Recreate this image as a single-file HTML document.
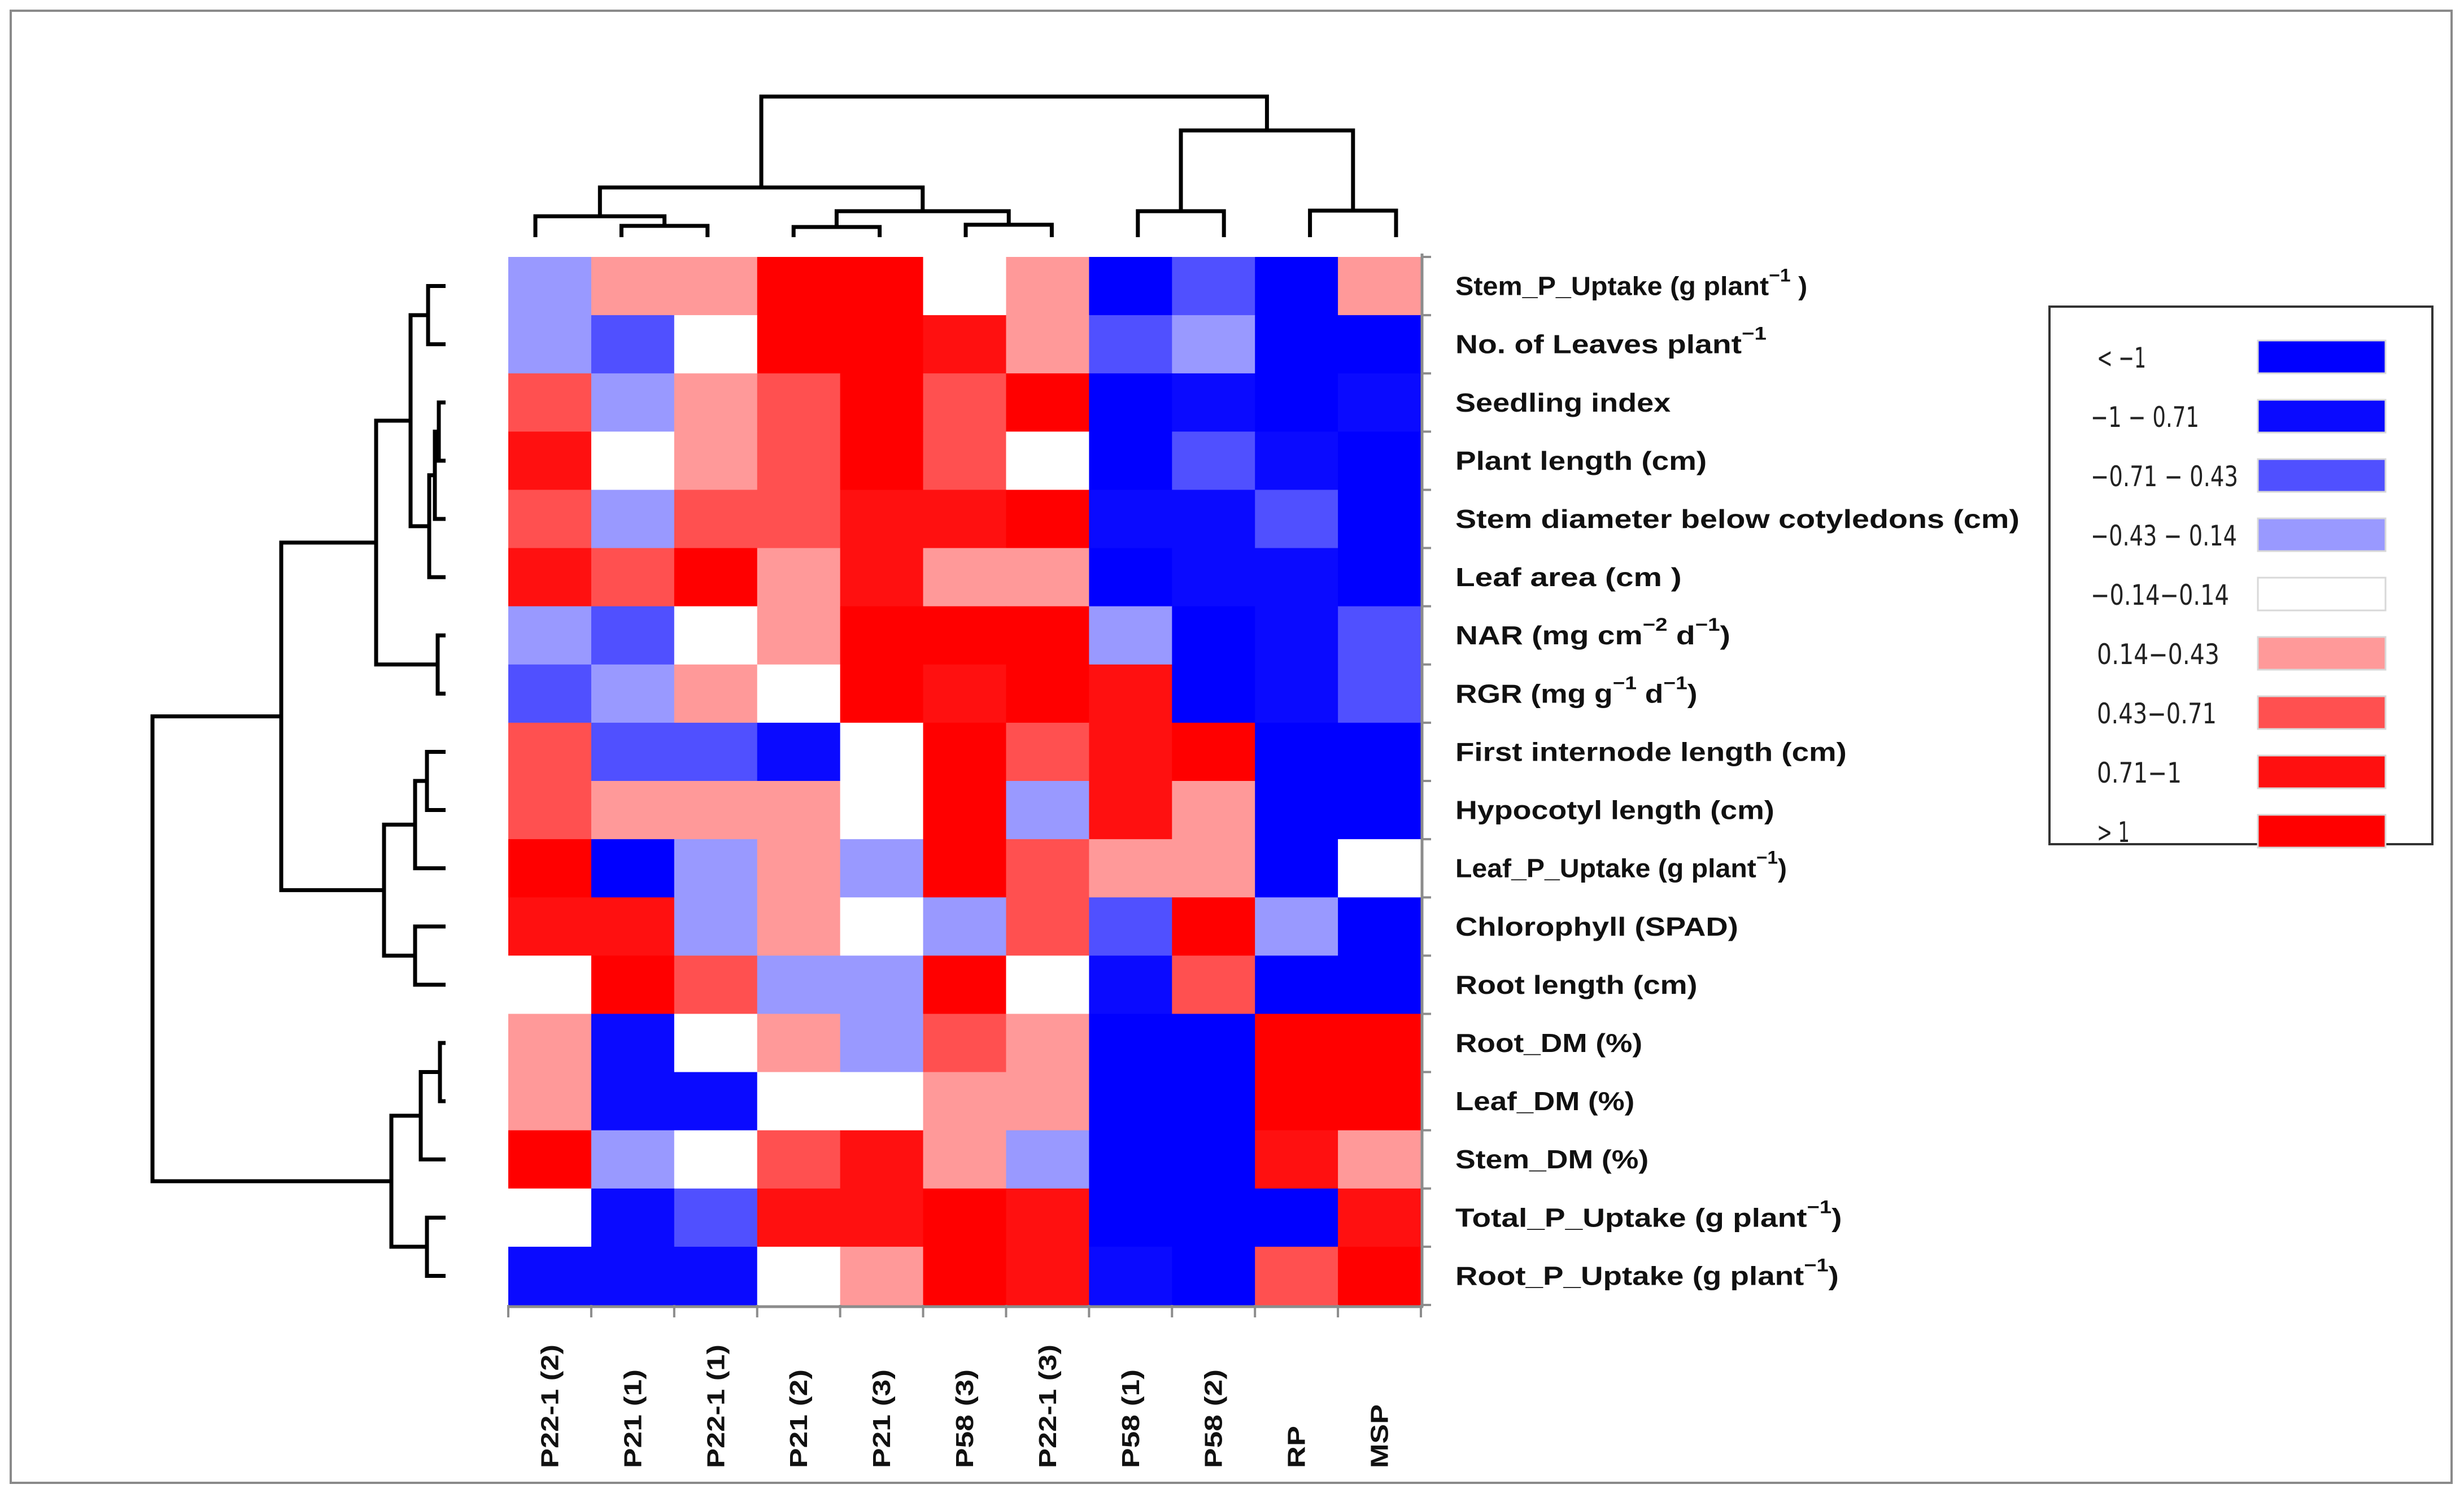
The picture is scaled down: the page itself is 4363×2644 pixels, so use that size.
<!DOCTYPE html>
<html><head><meta charset="utf-8"><style>
html,body{margin:0;padding:0;background:#fff;width:4363px;height:2644px;overflow:hidden}
svg{display:block}
.rl{font-family:"Liberation Sans",sans-serif;font-weight:bold;font-size:46px;fill:#111}
.cl{font-family:"Liberation Sans",sans-serif;font-weight:bold;font-size:44px;fill:#111}
.lg{font-family:"DejaVu Sans","Liberation Sans",sans-serif;font-size:50px;fill:#222}
</style></head><body>
<svg id="chart" width="4363" height="2644" viewBox="0 0 4363 2644" xmlns="http://www.w3.org/2000/svg">
<rect x="19" y="19" width="4322" height="2607" fill="#fff" stroke="#8a8a8a" stroke-width="4"/>
<g id="cells"></g>
<g id="axes"></g>
<g id="rowlabels"></g>
<g id="collabels"></g>
<g id="rowdendro"></g>
<g id="coldendro"></g>
<g id="legend">
<rect x="3629" y="543" width="678" height="952" fill="#fff" stroke="#333" stroke-width="4"/>
</g>
</svg>
<script>
const columns = ["P22-1 (2)","P21 (1)","P22-1 (1)","P21 (2)","P21 (3)","P58 (3)","P22-1 (3)","P58 (1)","P58 (2)","RP","MSP"];
const rowLabels = [
 ["Stem_P_Uptake (g plant","−1"," )"],
 ["No. of Leaves plant","−1",""],
 ["Seedling index","",""],
 ["Plant length (cm)","",""],
 ["Stem diameter below cotyledons (cm)","",""],
 ["Leaf area (cm   )","",""],
 ["NAR (mg cm","−2"," d","−1",")"],
 ["RGR (mg g","−1"," d","−1",")"],
 ["First internode length (cm)","",""],
 ["Hypocotyl length (cm)","",""],
 ["Leaf_P_Uptake (g plant","−1",")"],
 ["Chlorophyll (SPAD)","",""],
 ["Root length (cm)","",""],
 ["Root_DM (%)","",""],
 ["Leaf_DM (%)","",""],
 ["Stem_DM (%)","",""],
 ["Total_P_Uptake (g plant","−1",")"],
 ["Root_P_Uptake (g plant","−1",")"]
];
const rowLabelEnds = [1150,1124,1063,1086,1285,1070,1101,1080,1175,1129,1137,1106,1080,1045,1040,1049,1172,1170];
// standardized values (estimated from colour bins)
const values = [
 [-0.28,0.28,0.28,1.2,1.2,0,0.28,-1.2,-0.57,-1.2,0.28],
 [-0.28,-0.57,0,1.2,1.2,0.85,0.28,-0.57,-0.28,-1.2,-1.2],
 [0.57,-0.28,0.28,0.57,1.2,0.57,1.2,-1.2,-0.85,-1.2,-0.85],
 [0.85,0,0.28,0.57,1.2,0.57,0,-1.2,-0.57,-0.85,-1.2],
 [0.57,-0.28,0.57,0.57,0.85,0.85,1.2,-0.85,-0.85,-0.57,-1.2],
 [0.85,0.57,1.2,0.28,0.85,0.28,0.28,-1.2,-0.85,-0.85,-1.2],
 [-0.28,-0.57,0,0.28,1.2,1.2,1.2,-0.28,-1.2,-0.85,-0.57],
 [-0.57,-0.28,0.28,0,1.2,0.85,1.2,0.85,-1.2,-0.85,-0.57],
 [0.57,-0.57,-0.57,-0.85,0,1.2,0.57,0.85,1.2,-1.2,-1.2],
 [0.57,0.28,0.28,0.28,0,1.2,-0.28,0.85,0.28,-1.2,-1.2],
 [1.2,-1.2,-0.28,0.28,-0.28,1.2,0.57,0.28,0.28,-1.2,0],
 [0.85,0.85,-0.28,0.28,0,-0.28,0.57,-0.57,1.2,-0.28,-1.2],
 [0,1.2,0.57,-0.28,-0.28,1.2,0,-0.85,0.57,-1.2,-1.2],
 [0.28,-0.85,0,0.28,-0.28,0.57,0.28,-1.2,-1.2,1.2,1.2],
 [0.28,-0.85,-0.85,0,0,0.28,0.28,-1.2,-1.2,1.2,1.2],
 [1.2,-0.28,0,0.57,0.85,0.28,-0.28,-1.2,-1.2,0.85,0.28],
 [0,-0.85,-0.57,0.85,0.85,1.2,0.85,-1.2,-1.2,-1.2,0.85],
 [-0.85,-0.85,-0.85,0,0.28,1.2,0.85,-0.85,-1.2,0.57,1.2]
];
const binEdges = [-1,-0.71,-0.43,-0.14,0.14,0.43,0.71,1];
const binColors = ["#0000ff","#0a0aff","#5050ff","#9999ff","#ffffff","#ff9999","#ff5050","#ff1010","#ff0000"];
const legendLabels = ["< −1","−1  − 0.71","−0.71 − 0.43","−0.43 − 0.14","−0.14−0.14","0.14−0.43","0.43−0.71","0.71−1","> 1"];
const legendLabelWidths = [87,192,261,259,245,217,212,150,58];
// row dendrogram merges: [childA, childB, distance]; ids >= 18 refer to earlier merges
const rowMerges = [[0,1,3.1],[2,3,1.2],[19,4,1.9],[20,5,2.9],[18,21,6.2],[6,7,1.4],[22,23,12.3],[8,9,3.3],[25,10,5.4],[11,12,5.4],[26,27,10.9],[24,28,29.1],[13,14,1.0],[30,15,4.4],[16,17,3.3],[31,32,9.6],[29,33,51.9]];
// column dendrogram merges; ids >= 11 refer to earlier merges
const colMerges = [[1,2,2.0],[0,11,3.7],[3,4,1.8],[5,6,2.2],[13,14,4.6],[12,15,8.8],[7,8,4.6],[9,10,4.7],[17,18,18.9],[16,19,24.9]];

const NS="http://www.w3.org/2000/svg";
function mk(tag,attrs,parent){const e=document.createElementNS(NS,tag);for(const k in attrs)e.setAttribute(k,attrs[k]);parent.appendChild(e);return e;}
const X0=900,Y0=455,CW=(2516-900)/columns.length,RH=(2311-455)/values.length;
const xCol=i=>X0+CW*i, yRow=j=>Y0+RH*j;
function colorOf(v){let b=0;while(b<binEdges.length&&v>binEdges[b])b++;return binColors[b];}

const cells=document.getElementById('cells');
values.forEach((row,j)=>row.forEach((v,i)=>{
  const r=mk('rect',{x:xCol(i),y:yRow(j),width:CW+0.6,height:RH+0.6,fill:colorOf(v)},cells);
  
  
}));
// axes
const axes=document.getElementById('axes');
const xr=xCol(columns.length), yb=yRow(values.length);
mk('line',{x1:xr+2,y1:Y0-6,x2:xr+2,y2:yb+4,stroke:'#8c8c8c','stroke-width':5},axes);
mk('line',{x1:X0,y1:yb+3,x2:xr+4,y2:yb+3,stroke:'#8c8c8c','stroke-width':5},axes);
for(let j=0;j<=values.length;j++){mk('line',{x1:xr,y1:yRow(j),x2:xr+18,y2:yRow(j),stroke:'#8c8c8c','stroke-width':4},axes);}
for(let i=0;i<=columns.length;i++){mk('line',{x1:xCol(i),y1:yb,x2:xCol(i),y2:yb+22,stroke:'#8c8c8c','stroke-width':4},axes);}
// row labels
const rl=document.getElementById('rowlabels');
rowLabels.forEach((parts,j)=>{
  const t=mk('text',{class:'rl',x:2577,y:yRow(j)+RH/2+16},rl);
  
  
  parts.forEach((p,k)=>{
    if(p==='')return;
    const sup=(k%2===1);
    const ts=mk('tspan',sup?{'font-size':32,dy:-24}:(k>0?{dy:24}:{}),t);
    ts.textContent=p;
  });
  t.setAttribute('textLength',(rowLabelEnds[j]-926)*2.7825);
  t.setAttribute('lengthAdjust','spacingAndGlyphs');
});
// column labels
const cl=document.getElementById('collabels');
const colLabelLens=[219,175,219,175,175,175,219,175,175,75,113];
columns.forEach((c,i)=>{
  const cx=xCol(i)+CW/2+15;
  const t=mk('text',{class:'cl',x:cx,y:2600,transform:`rotate(-90 ${cx} 2600)`,textLength:colLabelLens[i],lengthAdjust:'spacingAndGlyphs'},cl);
  
  
  t.textContent=c;
});
// dendrograms
function drawDendro(merges,n,leafPos,base,scale,horizontal,g){
  const pos=[],h=[];
  for(let i=0;i<n;i++){pos.push(leafPos(i));h.push(0);}
  merges.forEach(([a,b,d])=>{
    const pa=pos[a],pb=pos[b],ha=h[a],hb=h[b];
    let pts;
    if(horizontal){
      pts=[[base-ha*scale,pa],[base-d*scale,pa],[base-d*scale,pb],[base-hb*scale,pb]];
    }else{
      pts=[[pa,base-ha*scale],[pa,base-d*scale],[pb,base-d*scale],[pb,base-hb*scale]];
    }
    const p=mk('polyline',{points:pts.map(q=>q.join(',')).join(' '),fill:'none',stroke:'#000','stroke-width':7,'stroke-linejoin':'miter'},g);
    
    
    pos.push((pa+pb)/2);h.push(d);
  });
}
drawDendro(rowMerges,values.length,j=>yRow(j)+RH/2,789,10,true,document.getElementById('rowdendro'));
drawDendro(colMerges,columns.length,i=>948+152.4*i,420,10,false,document.getElementById('coldendro'));
// legend
const lg=document.getElementById('legend');
binColors.forEach((c,k)=>{
  const cy=632+105*k;
  const r=mk('rect',{x:3998,y:cy-29,width:226,height:58,fill:c,stroke:'#d8d8d8','stroke-width':3},lg);
  
  
  const lx=(k>0&&k<5)?3702:3713;
  const t=mk('text',{class:'lg',x:lx,y:cy+19,textLength:legendLabelWidths[k],lengthAdjust:'spacingAndGlyphs'},lg);
  
  
  t.textContent=legendLabels[k];
});
</script>
</body></html>
